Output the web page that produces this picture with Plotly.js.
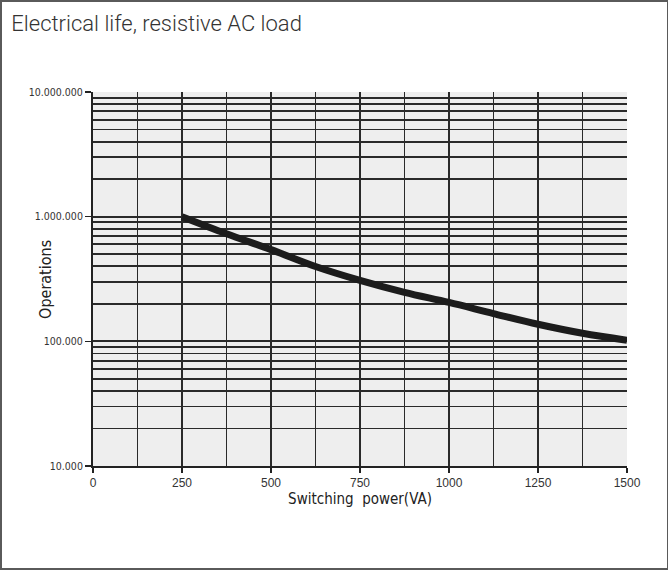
<!DOCTYPE html>
<html>
<head>
<meta charset="utf-8">
<script src="https://cdn.plot.ly/plotly-3.0.1.min.js"></script>
<style>
html,body{margin:0;padding:0;background:#fff;}
#frame{position:absolute;left:0;top:0;width:668px;height:570px;box-sizing:border-box;border:2px solid #5a5a5a;border-right-width:1px;}
#chart{position:absolute;left:0;top:0;width:668px;height:571px;}
</style>
</head>
<body>
<div id="chart"></div>
<div id="frame"></div>
<script>
// Data
const switchingPower = [250, 375, 500, 625, 750, 875, 1000, 1125, 1250, 1375, 1500];
const operations = [1000000, 730000, 544000, 398000, 308000, 247000, 205000, 167000, 137000, 116000, 102000];

const xTickVals = [0, 250, 500, 750, 1000, 1250, 1500];
const xTickText = ['0', '250', '500', '750', '1000', '1250', '1500'];
const xGridVals = [125, 250, 375, 500, 625, 750, 875, 1000, 1125, 1250, 1375];

const yTickVals = [10000, 100000, 1000000, 10000000];
const yTickText = ['10.000', '100.000', '1.000.000', '10.000.000'];
const yGridVals = [];
[10000, 100000, 1000000].forEach(d => { for (let m = 1; m <= 9; m++) yGridVals.push(d * m); });
yGridVals.push(10000000);

const narrow = '"Liberation Sans Narrow", "Arial Narrow", "DejaVu Sans Condensed", sans-serif';

const trace = {
  x: switchingPower,
  y: operations,
  type: 'scatter',
  mode: 'lines',
  line: {color: '#1c1c1c', width: 7, shape: 'spline'},
  hoverinfo: 'skip'
};

const layout = {
  width: 668, height: 571,
  margin: {l: 93, r: 41, t: 92, b: 105},
  paper_bgcolor: '#ffffff',
  plot_bgcolor: '#eeeeee',
  showlegend: false,
  title: {
    text: 'Electrical life, resistive AC load',
    x: 0.017, xanchor: 'left', xref: 'container',
    y: 0.96, yanchor: 'middle', yref: 'container',
    font: {family: 'Roboto, "Liberation Sans", Arial, sans-serif', size: 22, color: '#333333', weight: 300}
  },
  xaxis: {
    range: [0, 1500],
    tickvals: xTickVals, ticktext: xTickText,
    ticks: 'outside', ticklen: 5, tickwidth: 1.5, tickcolor: '#222',
    showgrid: false, zeroline: false,
    showline: true, linecolor: '#222', linewidth: 2,
    tickfont: {family: 'Liberation Sans, Arial, sans-serif', size: 12, color: '#333'},
    title: {text: 'Switching&nbsp;&nbsp;power(VA)', standoff: 4,
            font: {family: narrow, size: 15, color: '#222'}},
    minor: {tickvals: xGridVals, showgrid: true, gridcolor: '#2a2a2a', gridwidth: 1.5, ticks: ''},
    fixedrange: true
  },
  yaxis: {
    type: 'log',
    range: [4, 7],
    tickvals: yTickVals, ticktext: yTickText,
    ticks: 'outside', ticklen: 6, tickwidth: 1.5, tickcolor: '#222',
    showgrid: false, zeroline: false,
    showline: true, linecolor: '#222', linewidth: 2,
    tickfont: {family: narrow, size: 10.5, color: '#333'},
    minor: {tickvals: yGridVals, showgrid: true, gridcolor: '#2a2a2a', gridwidth: 1.8, ticks: ''},
    fixedrange: true
  },
  annotations: [{
    text: 'Operations', textangle: -90,
    xref: 'paper', yref: 'paper', x: -0.09, y: 0.5,
    xanchor: 'center', yanchor: 'middle', showarrow: false,
    font: {family: narrow, size: 16, color: '#222'}
  }]
};

Plotly.newPlot('chart', [trace], layout, {staticPlot: true, displayModeBar: false});
</script>
</body>
</html>
